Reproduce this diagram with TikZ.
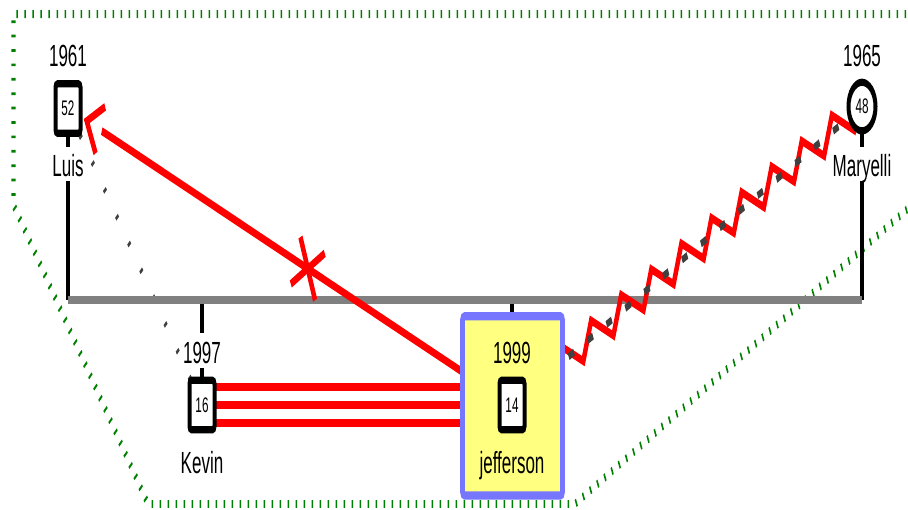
\documentclass[tikz,border=0pt]{standalone}
\usepackage{fontspec}
\setmainfont{Liberation Sans}
\usetikzlibrary{calc,decorations.pathmorphing}
\definecolor{tlgray}{RGB}{128,128,128}
\definecolor{dgray}{RGB}{64,64,64}
\definecolor{dgreen}{RGB}{0,128,0}
\definecolor{hlyellow}{RGB}{255,255,128}
\definecolor{hlblue}{RGB}{118,118,255}
\newcommand\bigfont{\fontsize{17}{19}\selectfont}
\newcommand\smallfont{\fontsize{11.7}{13}\selectfont}
\begin{document}
\begin{tikzpicture}[x=1pt,y=-1pt,
  stem/.style={black,line width=4pt},
  tline/.style={tlgray,line width=4.5pt},
  redline/.style={red,line width=4.4pt},
  gdot/.style={dgray,line width=3.5pt,dash pattern=on 2pt off 17.2pt},
  gdash/.style={dgray,line width=4pt,dash pattern=on 6pt off 14.9pt},
  hull/.style={dgreen,line width=4.4pt,dash pattern=on 1.5pt off 6.5pt},
  pbox/.style={draw,fill=white,line width=4pt,rounded corners=2pt,minimum width=25pt,minimum height=27.5pt,inner sep=0pt,font=\smallfont},
  pcirc/.style={draw,fill=white,circle,line width=4pt,minimum size=27pt,inner sep=0pt,font=\smallfont},
  hlbox/.style={draw=hlblue,fill=hlyellow,line width=4.6pt,rounded corners=2pt,minimum width=100pt,minimum height=99.5pt},
  txt/.style={font=\bigfont,anchor=base,inner sep=0pt},
  lbl/.style={font=\bigfont,anchor=base,fill=white,text height=14pt,text depth=0pt,inner xsep=1pt,inner ysep=2.5pt},
]
\useasboundingbox (0,0) rectangle (908,509);
\begin{scope}[transform canvas={yscale=1.8}]
\coordinate (L) at (68,60.3);
\coordinate (M) at (862,59.2);
\coordinate (K) at (202,225);
\coordinate (J) at (512,225);
\coordinate (TL) at (68,166.7);
\coordinate (TR) at (862,166.7);
\coordinate (H) at (512.5,225.5);
% green hull
\coordinate (g1) at (930,7.8);
\coordinate (g2) at (13.5,7.8);
\coordinate (g3) at (13.5,113.9);
\coordinate (g4) at (148,280);
\coordinate (g5) at (575,280);
\coordinate (g6) at (930,105);
\draw[hull] (g1) -- (g2) -- (g3) -- (g4) -- (g5) -- (g6);
% gray dotted Luis - Kevin
\draw[gdot] (L) -- (K);
% stems
\draw[stem] (L) -- (L |- TL);
\draw[stem] (M) -- (M |- TR);
\draw[stem] (K) -- (K |- TL);
\draw[stem] (J) -- (J |- TL);
% timeline
\draw[tline] (TL) -- (TR);
% jefferson -> Luis
\coordinate (xc) at ($(L)!0.54!(J)$);
\coordinate (atip) at ($(L)!20pt!(J)$);
\coordinate (abase) at ($(L)!34.5pt!(J)$);
\coordinate (aend) at ($(L)!36pt!(J)$);
\coordinate (aarm1) at ($(abase)!13.8pt!90:(atip)$);
\coordinate (aarm2) at ($(abase)!13.8pt!-90:(atip)$);
\coordinate (x1a) at ($(xc)!19pt!47:(J)$);
\coordinate (x1b) at ($(xc)!19pt!227:(J)$);
\coordinate (x2a) at ($(xc)!19pt!-47:(J)$);
\coordinate (x2b) at ($(xc)!19pt!133:(J)$);
\draw[redline] (J) -- (aend);
\draw[redline,line join=miter] (aarm1) -- (atip) -- (aarm2);
\draw[redline] (x1a) -- (x1b);
\draw[redline] (x2a) -- (x2b);
% Kevin -> jefferson triple line
\foreach \dy in {-9.9,0,9.9} \draw[redline] ([yshift=\dy pt]K) -- ([yshift=\dy pt]J);
% jefferson -> Maryelli zigzag
\draw[redline,decorate,decoration={zigzag,segment length=33.3pt,amplitude=8.5pt,mirror}] (J) -- (M);
\draw[gdash] (J) -- (M);
% nodes
\node[hlbox] (jhl) at (H) {};
\node[pbox] (luis) at (L) {52};
\node[pcirc] (mary) at (M) {48};
\node[pbox] (kevin) at (K) {16};
\node[pbox] (jeff) at (J) {14};
\node[txt] (luisyr) at (68,37.2) {1961};
\node[lbl] (luisnm) at (68,98.3) {Luis};
\node[txt] (maryyr) at (862,37.2) {1965};
\node[lbl] (marynm) at (862,98.3) {Maryelli};
\node[lbl] (kevinyr) at (202,201.7) {1997};
\node[txt] (kevinnm) at (202,262.8) {Kevin};
\node[txt] (jeffyr) at (512,201.7) {1999};
\node[txt] (jeffnm) at (512,262.8) {jefferson};
\end{scope}
\end{tikzpicture}
\end{document}
